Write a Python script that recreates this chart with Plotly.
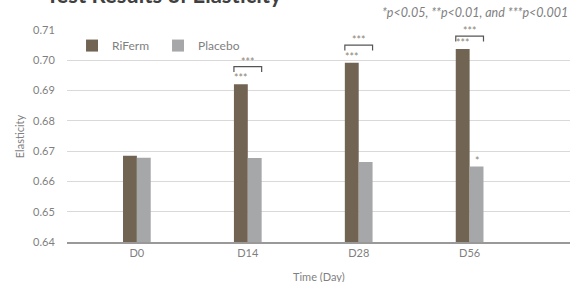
import plotly.graph_objects as go

categories = ["D0", "D14", "D28", "D56"]
riferm = [0.6685, 0.6921, 0.6992, 0.7037]
placebo = [0.6678, 0.6677, 0.6664, 0.6649]
riferm_sig = ["", "***", "***", "***"]
placebo_sig = ["", "", "", "*"]
between_sig = ["", "***", "***", "***"]
y_ticks = [0.64, 0.65, 0.66, 0.67, 0.68, 0.69, 0.70, 0.71]

BROWN = "#716453"
GRAY = "#A6A7A9"
STAR = "#8c8477"
TXT = "#7f7f7f"
FONT = "Lato"

fig = go.Figure()
fig.add_trace(go.Bar(name="RiFerm", x=categories, y=riferm, marker_color=BROWN, marker_line_width=0))
fig.add_trace(go.Bar(name="Placebo", x=categories, y=placebo, marker_color=GRAY, marker_line_width=0))

shapes = []
annotations = []
bw = 0.125
for i, c in enumerate(categories):
    if riferm_sig[i]:
        annotations.append(dict(x=i - bw / 2, y=riferm[i], xref="x", yref="y", text=riferm_sig[i],
                                showarrow=False, yanchor="bottom", yshift=-2,
                                font=dict(size=10.5, color=STAR, family=FONT)))
    if placebo_sig[i]:
        annotations.append(dict(x=i + bw / 2, y=placebo[i], xref="x", yref="y", text=placebo_sig[i],
                                showarrow=False, yanchor="bottom", yshift=-2,
                                font=dict(size=10.5, color=STAR, family=FONT)))
    if between_sig[i]:
        yb = min(riferm[i] + 0.0058, 0.708)
        x0, x1 = i - bw, i + bw
        shapes.append(dict(type="path", xref="x", yref="y",
                           path=f"M {x0},{yb - 0.0018} L {x0},{yb} L {x1},{yb} L {x1},{yb - 0.0018}",
                           line=dict(color="#555555", width=1.2)))
        annotations.append(dict(x=i, y=yb, xref="x", yref="y", text=between_sig[i],
                                showarrow=False, yanchor="bottom", yshift=-3,
                                font=dict(size=10.5, color=STAR, family=FONT)))

annotations.append(dict(x=1.0, y=1.0, xref="paper", yref="paper", xanchor="right", yanchor="bottom",
                        yshift=8, text="<i>*p<0.05, **p<0.01, and ***p<0.001</i>", showarrow=False,
                        font=dict(size=12.5, color=TXT, family=FONT)))
annotations.append(dict(x=-0.045, y=1.0, xref="paper", yref="paper", xanchor="left", yanchor="bottom",
                        yshift=20, text="<b>Test Results of Elasticity</b>", showarrow=False,
                        font=dict(size=22, color="#404040", family=FONT)))
annotations.append(dict(x=-0.095, y=0.5, xref="paper", yref="paper", xanchor="center", yanchor="middle",
                        text="Elasticity", textangle=-90, showarrow=False,
                        font=dict(size=11, color=TXT, family=FONT)))
annotations.append(dict(x=0.5, y=0, xref="paper", yref="paper", xanchor="center", yanchor="top",
                        yshift=-26, text="Time (Day)", showarrow=False,
                        font=dict(size=11, color=TXT, family=FONT)))

fig.update_layout(
    width=584, height=282,
    margin=dict(l=67, r=14, t=30, b=40),
    paper_bgcolor="white", plot_bgcolor="white",
    barmode="group", bargap=0.75, bargroupgap=0,
    font=dict(family=FONT, color=TXT, size=11),
    showlegend=True,
    legend=dict(orientation="h", x=0.01, y=0.995, xanchor="left", yanchor="top",
                font=dict(size=12, color=TXT), bgcolor="rgba(0,0,0,0)", itemwidth=30,
                entrywidth=41, entrywidthmode="pixels"),
    shapes=shapes,
    annotations=annotations,
)
fig.update_xaxes(range=[-0.63, 3.905], showgrid=False, showline=True, linecolor="#999999", linewidth=1.5,
                 ticks="", automargin=False, tickfont=dict(size=11, color=TXT))
fig.update_yaxes(range=[0.64, 0.71], tickvals=y_ticks, tickformat=".2f", showgrid=True,
                 gridcolor="#d9d9d9", gridwidth=1, zeroline=False, showline=False,
                 ticks="outside", ticklen=9, tickcolor="rgba(0,0,0,0)", automargin=False,
                 tickfont=dict(size=11, color=TXT))

fig.write_html("out.html", config={"displayModeBar": False},
               post_script="document.body.style.margin='0';document.body.style.overflow='hidden';")
